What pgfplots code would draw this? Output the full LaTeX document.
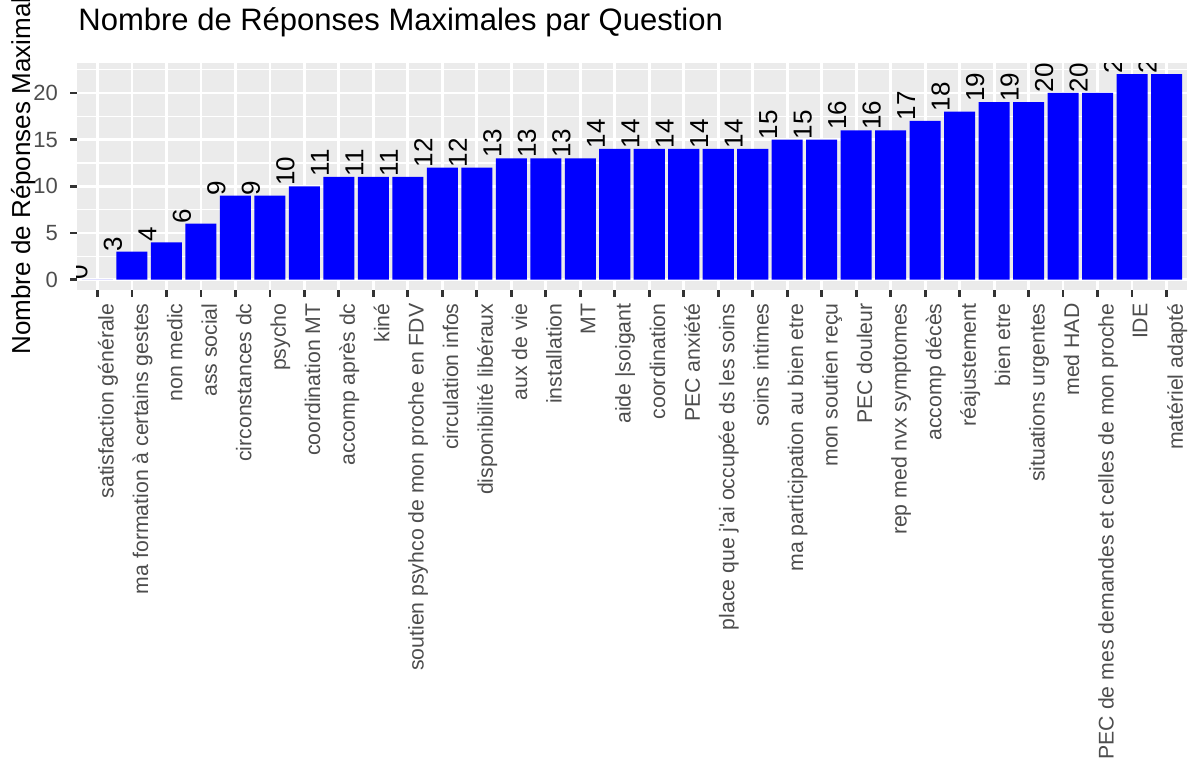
\documentclass[border=0pt]{standalone}
\usepackage{pgfplots}
\pgfplotsset{compat=1.18}
\usepackage{fontspec}
\setmainfont{Liberation Sans}
\definecolor{ggbg}{HTML}{EBEBEB}
\definecolor{ggtick}{HTML}{333333}
\definecolor{ggtext}{HTML}{4D4D4D}
\definecolor{barblue}{HTML}{0000FF}
\begin{document}
\begin{tikzpicture}
\begin{axis}[
  at={(30.68pt,192.4pt)}, anchor=south west,
  scale only axis, width=444.24pt, height=90.8pt,
  xmin=0.4, xmax=32.6, ymin=-1.1, ymax=23.2,
  ybar, bar width=0.9,
  /pgf/number format/assume math mode=true,
  axis background/.style={fill=ggbg},
  axis line style={draw=none},
  xtick={1,...,32},
  xticklabels={satisfaction générale, ma formation à certains gestes, non medic, ass social, circonstances dc, psycho, coordination MT, accomp après dc, kiné, soutien psyhco de mon proche en FDV, circulation infos, disponibilité libéraux, aux de vie, installation, MT, aide \textbar{}soigant, coordination, PEC anxiété, place que j\textquotesingle ai occupée ds les soins, soins intimes, ma participation au bien etre, mon soutien reçu, PEC douleur, rep med nvx symptomes, accomp décès, réajustement, bien etre, situations urgentes, med HAD, PEC de mes demandes et celles de mon proche, IDE, matériel adapté},
  ytick={0,5,10,15,20},
  minor ytick={2.5,7.5,12.5,17.5,22.5},
  xtick pos=bottom, ytick pos=left,
  tick align=outside,
  major tick length=2.6pt, minor tick length=0pt,
  major tick style={color=ggtick, line width=1.07pt},
  xmajorgrids, ymajorgrids, yminorgrids,
  major grid style={white, line width=1.07pt},
  minor grid style={white, line width=0.53pt},
  xticklabel style={font=\fontsize{8.5}{10}\selectfont, text=ggtext, rotate=90, anchor=north east, inner sep=0pt},
  xticklabel shift=2.6pt,
  yticklabel style={font=\fontsize{8.8}{10}\selectfont, text=ggtext, anchor=east, inner sep=0pt},
  yticklabel shift=4.7pt,
  title={Nombre de Réponses Maximales par Question},
  title style={at={(0,1)}, anchor=base west, yshift=7.2pt, xshift=0.5pt, inner sep=0pt, font=\fontsize{12.4}{14}\selectfont},
  nodes near coords,
  nodes near coords style={font=\fontsize{10.4}{12}\selectfont, text=black, xshift=-4pt, rotate=90, anchor=base west, inner sep=0pt},
  clip marker paths=true,
]
\addplot[fill=barblue, draw=none] coordinates {
(1,0) (2,3) (3,4) (4,6) (5,9) (6,9) (7,10) (8,11) (9,11) (10,11)
(11,12) (12,12) (13,13) (14,13) (15,13) (16,14) (17,14) (18,14) (19,14) (20,14)
(21,15) (22,15) (23,16) (24,16) (25,17) (26,18) (27,19) (28,19) (29,20) (30,20)
(31,22) (32,22)};
\end{axis}
\node[rotate=90, anchor=base west, inner sep=0pt, font=\fontsize{10.4}{12}\selectfont] at (12pt,166.4pt) {Nombre de Réponses Maximales};
\pgfresetboundingbox
\path[use as bounding box] (0,0) rectangle (475.2pt,308.4pt);
\end{tikzpicture}
\end{document}
